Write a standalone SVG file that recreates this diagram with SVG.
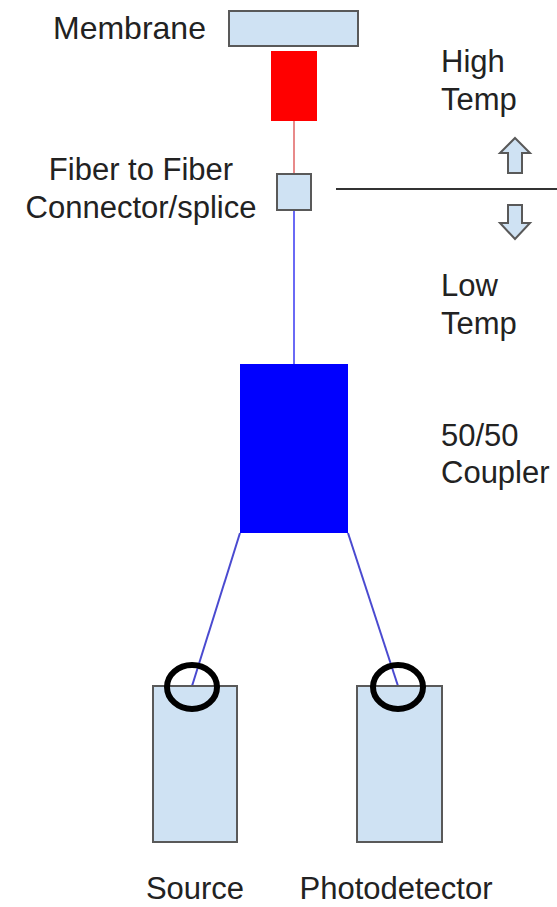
<svg xmlns="http://www.w3.org/2000/svg" width="557" height="907" viewBox="0 0 557 907">
<style>
.t{font-family:"Liberation Sans",Arial,sans-serif;font-size:31px;fill:#222}
.lb{fill:#cfe2f3;stroke:#595959;stroke-width:2}
</style>
<rect width="557" height="907" fill="#fff"/>
<g id="connectors">
<line x1="294" y1="121" x2="294" y2="174" stroke="#e88a8a" stroke-width="2"/>
<line x1="294" y1="210" x2="294" y2="364" stroke="#6a6af5" stroke-width="2"/>
<line x1="240" y1="533" x2="192" y2="686" stroke="#4a4ad0" stroke-width="2"/>
<line x1="348" y1="533" x2="398" y2="686" stroke="#4a4ad0" stroke-width="2"/>
<line x1="336" y1="189" x2="557" y2="189" stroke="#333" stroke-width="2"/>
</g>
<g id="membrane">
<rect class="lb" x="229" y="11" width="129" height="35"/>
<text class="t" x="53" y="39" style="font-size:32px">Membrane</text>
</g>
<g id="sensor"><rect x="271" y="51" width="46" height="70" fill="#ff0000"/></g>
<g id="splice">
<rect class="lb" x="277" y="174" width="34" height="36"/>
<text class="t" x="141" y="180" text-anchor="middle">Fiber to Fiber</text>
<text class="t" x="141" y="218" text-anchor="middle">Connector/splice</text>
</g>
<g id="high-temp">
<text class="t" x="441" y="72">High</text>
<text class="t" x="441" y="110">Temp</text>
<polygon class="lb" points="515,138 530,153 522,153 522,173 508,173 508,153 500,153"/>
</g>
<g id="low-temp">
<polygon class="lb" points="508,205 522,205 522,223 530,223 515,239 500,223 508,223"/>
<text class="t" x="441" y="296">Low</text>
<text class="t" x="441" y="334">Temp</text>
</g>
<g id="coupler">
<rect x="240" y="364" width="108" height="169" fill="#0000ff"/>
<text class="t" x="441" y="446">50/50</text>
<text class="t" x="441" y="483">Coupler</text>
</g>
<g id="source">
<rect class="lb" x="153" y="686" width="84" height="156"/>
<ellipse cx="192" cy="687" rx="25" ry="22" fill="none" stroke="#000" stroke-width="6"/>
<text class="t" x="195" y="899" text-anchor="middle">Source</text>
</g>
<g id="photodetector">
<rect class="lb" x="357" y="686" width="85" height="156"/>
<ellipse cx="398" cy="687" rx="25" ry="22" fill="none" stroke="#000" stroke-width="6"/>
<text class="t" x="396" y="899" text-anchor="middle">Photodetector</text>
</g>
</svg>
